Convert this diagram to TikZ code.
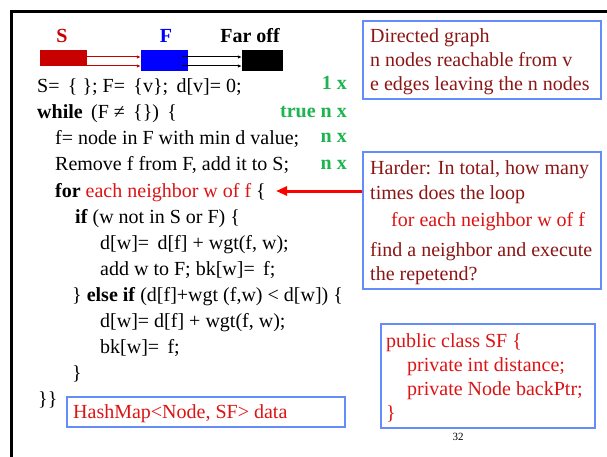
\documentclass[tikz,border=0pt]{standalone}
\usepackage{fontspec}
\setmainfont{Liberation Serif}
\usetikzlibrary{arrows.meta}
\definecolor{darkred}{RGB}{140,22,22}
\definecolor{brightred}{RGB}{220,20,20}
\definecolor{setred}{RGB}{200,0,0}
\definecolor{countgreen}{RGB}{30,180,80}
\definecolor{boxblue}{RGB}{100,140,250}
\newcommand\bigtxt{\fontsize{20}{24}\selectfont}
\tikzset{
  codeline/.style={anchor=base west, inner sep=0pt, font=\bigtxt},
  count/.style={anchor=base east, inner sep=0pt, font=\bigtxt\bfseries, text=countgreen},
  setlabel/.style={anchor=base, inner sep=0pt, font=\bigtxt\bfseries},
  setbar/.style={draw=none, inner sep=0pt},
  notebox/.style={draw=boxblue, line width=1.2pt, inner sep=0pt},
  flow/.style={line width=1pt, -{Latex[length=4pt,width=3.5pt]}},
}
\begin{document}
\begin{tikzpicture}[x=1pt,y=-1pt]
\useasboundingbox[fill=white] (0,0) rectangle (607,457);

% slide frame
\draw[line width=3pt] (11.5,457) -- (11.5,11.5) -- (607,11.5);

% the three sets: settled, frontier, far off
\node[setlabel, text=setred] (lS) at (62,43) {S};
\node[setlabel, text=blue] (lF) at (166,43) {F};
\node[setlabel] (lFar) at (250,43) {Far off};
\node[setbar, fill=setred, minimum width=47pt, minimum height=16pt] (barS) at (63.5,58) {};
\node[setbar, fill=blue, minimum width=47pt, minimum height=21pt] (barF) at (164.5,60.5) {};
\node[setbar, fill=black, minimum width=41pt, minimum height=21pt] (barFar) at (262.5,60.5) {};
\coordinate (fUp) at (182,57);
\coordinate (fDn) at (182,66);
\draw[flow, setred] (barS.east |- fUp) -- (barF.west |- fUp);
\draw[flow, setred] (barS.east |- fDn) -- (barF.west |- fDn);
\draw[flow] (fUp) -- (barFar.west |- fUp);
\draw[flow] (fDn) -- (barFar.west |- fDn);

% the algorithm
\node[codeline] (c1) at (37,93) {S=\, \{ \}; F=\, \{v\};\, d[v]= 0;};
\node[codeline] (c2) at (37,119) {\textbf{while}\, (F ≠\, \{\})\, \{};
\node[codeline] (c3) at (55,145) {f= node in F with min d value;};
\node[codeline] (c4) at (55,171) {Remove f from F, add it to S;};
\node[codeline] (c5) at (55,197) {\textbf{for} \textcolor{brightred}{each neighbor w of f} \{};
\node[codeline] (c6) at (75,223) {\textbf{if} (w not in S or F) \{};
\node[codeline] (c7) at (100,249) {d[w]=\, d[f] + wgt(f, w);};
\node[codeline] (c8) at (100,275) {add w to F; bk[w]=\, f;};
\node[codeline] (c9) at (72,301) {\} \textbf{else if} (d[f]+wgt (f,w) < d[w]) \{};
\node[codeline] (c10) at (100,327) {d[w]= d[f] + wgt(f, w);};
\node[codeline] (c11) at (100,353) {bk[w]=\, f;};
\node[codeline] (c12) at (72,379) {\}};
\node[codeline] (c13) at (38,405) {\}\}};

% execution counts
\node[count] (n1) at (347,90) {1 x};
\node[count] (n2) at (347,118) {true n x};
\node[count] (n3) at (347,143) {n x};
\node[count] (n4) at (347,169) {n x};

% graph facts
\node[notebox, minimum width=238pt, minimum height=78pt] (facts) at (482,60) {};
\node[codeline, text=darkred] (f1) at (370,43) {Directed graph};
\node[codeline, text=darkred] (f2) at (370,67) {n nodes reachable from v};
\node[codeline, text=darkred] (f3) at (370,91) {e edges leaving the n nodes};

% question about the inner loop
\node[notebox, minimum width=238pt, minimum height=137pt] (harder) at (482,220.5) {};
\node[codeline, text=darkred] (h1) at (370,175) {Harder: In total, how many};
\node[codeline, text=darkred] (h2) at (370,199) {times does the loop};
\node[codeline, text=brightred] (h3) at (391,226) {for each neighbor w of f};
\node[codeline, text=darkred] (h4) at (370,256) {find a neighbor and execute};
\node[codeline, text=darkred] (h5) at (370,280) {the repetend?};
\coordinate (loopTip) at (276,191);
\draw[red, line width=3pt, -{Triangle[length=11pt,width=9pt]}] (harder.west |- loopTip) -- (loopTip);

% data structures
\node[notebox, minimum width=278pt, minimum height=30pt] (map) at (206,412) {};
\node[codeline, text=brightred] (m1) at (73,418) {HashMap<Node, SF> data};
\node[notebox, minimum width=214pt, minimum height=104pt] (sf) at (488,376) {};
\node[codeline, text=brightred] (s1) at (386,347) {public class SF \{};
\node[codeline, text=brightred] (s2) at (407,371) {private int distance;};
\node[codeline, text=brightred] (s3) at (407,395) {private Node backPtr;};
\node[codeline, text=brightred] (s4) at (386,419) {\}};

% page number
\node[inner sep=0pt, font=\fontsize{11}{13}\selectfont] (page) at (458,437) {32};
\end{tikzpicture}
\end{document}
